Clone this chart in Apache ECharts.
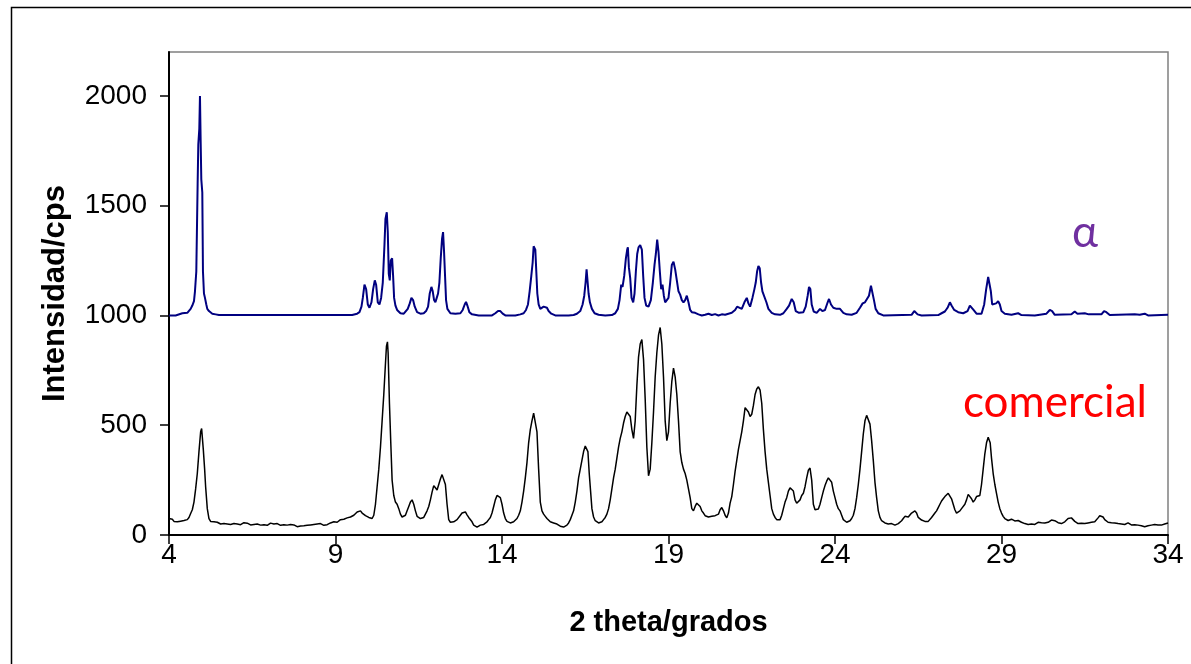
<!DOCTYPE html>
<html>
<head>
<meta charset="utf-8">
<script src="https://cdn.jsdelivr.net/npm/echarts@6/dist/echarts.min.js"></script>
<style>
  html, body { margin: 0; padding: 0; background: #fff; }
  #chart { width: 1191px; height: 664px; }
</style>
</head>
<body>
<div id="chart"></div>
<script>
// ---- Data (2θ in degrees, intensity in cps) ----
const xTicks = [4, 9, 14, 19, 24, 29, 34];
const yTicks = [0, 500, 1000, 1500, 2000];
const labelAlpha = 'α';
const labelCommercial = 'comercial';
const xTitle = '2 theta/grados';
const yTitle = 'Intensidad/cps';

// α form (offset by +1000)
const alphaPattern = [
  [4.00,1000],[4.20,1000],[4.25,1008],[4.40,1010],[4.55,1012],[4.60,1018],[4.65,1030],[4.70,1045],
  [4.75,1065],[4.78,1110],[4.82,1200],[4.86,1600],[4.88,1780],[4.91,1850],[4.93,2000],[4.95,1800],
  [4.97,1620],[5.00,1560],[5.02,1200],[5.05,1100],[5.08,1080],[5.12,1050],[5.15,1030],[5.20,1020],
  [5.25,1012],[5.30,1008],[5.40,1005],[5.50,1002],[6.50,1002],[7.50,1002],[8.50,1002],[9.50,1002],
  [9.55,1003],[9.65,1008],[9.72,1015],[9.78,1040],[9.82,1080],[9.87,1140],[9.92,1120],[9.97,1050],
  [10.02,1035],[10.08,1060],[10.13,1120],[10.18,1160],[10.22,1140],[10.27,1060],[10.32,1050],[10.37,1080],
  [10.42,1150],[10.47,1320],[10.50,1440],[10.54,1470],[10.57,1380],[10.60,1190],[10.63,1160],[10.66,1250],
  [10.70,1260],[10.73,1180],[10.76,1080],[10.80,1045],[10.85,1025],[10.95,1010],[11.05,1008],[11.10,1012],
  [11.17,1030],[11.23,1055],[11.28,1080],[11.33,1070],[11.38,1040],[11.45,1015],[11.55,1008],[11.65,1010],
  [11.72,1020],[11.78,1040],[11.83,1100],[11.88,1130],[11.92,1110],[11.96,1070],[12.00,1060],[12.04,1080],
  [12.08,1100],[12.12,1150],[12.16,1260],[12.20,1350],[12.23,1380],[12.26,1290],[12.29,1180],[12.32,1070],
  [12.36,1030],[12.45,1010],[12.60,1008],[12.75,1010],[12.82,1025],[12.88,1050],[12.92,1062],[12.96,1045],
  [13.02,1015],[13.10,1005],[13.30,1000],[13.70,1000],[13.80,1010],[13.88,1020],[13.95,1020],[14.02,1008],
  [14.10,1000],[14.40,1000],[14.55,1005],[14.65,1010],[14.72,1025],[14.78,1050],[14.83,1110],[14.88,1180],
  [14.92,1240],[14.95,1315],[14.98,1310],[15.00,1300],[15.03,1200],[15.06,1100],[15.10,1050],[15.15,1030],
  [15.20,1025],[15.25,1040],[15.30,1048],[15.35,1035],[15.40,1020],[15.48,1008],[15.60,1000],[16.00,1000],
  [16.15,1002],[16.25,1008],[16.35,1020],[16.42,1050],[16.47,1090],[16.51,1150],[16.54,1210],[16.57,1205],
  [16.60,1100],[16.64,1060],[16.70,1030],[16.78,1010],[16.90,1003],[17.10,1000],[17.30,1002],[17.40,1010],
  [17.48,1030],[17.53,1070],[17.58,1140],[17.62,1130],[17.67,1180],[17.72,1260],[17.76,1300],[17.78,1310],
  [17.81,1220],[17.85,1170],[17.89,1080],[17.94,1060],[17.98,1100],[18.02,1200],[18.06,1280],[18.10,1310],
  [18.15,1320],[18.20,1300],[18.24,1180],[18.28,1080],[18.33,1045],[18.40,1040],[18.47,1070],[18.53,1150],
  [18.58,1230],[18.62,1280],[18.66,1345],[18.70,1290],[18.74,1200],[18.78,1120],[18.82,1140],[18.86,1090],
  [18.90,1060],[18.95,1055],[19.00,1080],[19.05,1150],[19.10,1230],[19.15,1245],[19.20,1210],[19.25,1160],
  [19.30,1110],[19.35,1095],[19.40,1070],[19.45,1060],[19.50,1070],[19.55,1090],[19.60,1060],[19.65,1025],
  [19.70,1015],[19.80,1012],[19.90,1005],[20.00,1000],[20.10,1003],[20.20,1008],[20.30,1002],[20.40,1006],
  [20.50,1000],[20.60,1005],[20.70,1003],[20.80,1008],[20.90,1012],[21.00,1025],[21.06,1040],[21.12,1035],
  [21.20,1030],[21.28,1060],[21.35,1080],[21.40,1055],[21.45,1040],[21.52,1080],[21.58,1120],[21.62,1150],
  [21.66,1200],[21.70,1225],[21.74,1215],[21.78,1150],[21.82,1110],[21.88,1105],[21.94,1060],[22.00,1030],
  [22.10,1012],[22.20,1005],[22.35,1003],[22.45,1010],[22.55,1030],[22.62,1045],[22.70,1075],[22.76,1060],
  [22.82,1020],[22.92,1012],[23.05,1015],[23.12,1040],[23.18,1090],[23.22,1130],[23.26,1120],[23.30,1050],
  [23.36,1018],[23.45,1012],[23.55,1030],[23.62,1020],[23.70,1025],[23.78,1060],[23.82,1075],[23.88,1050],
  [23.95,1035],[24.05,1030],[24.15,1030],[24.25,1012],[24.35,1005],[24.50,1003],[24.65,1012],[24.75,1035],
  [24.83,1055],[24.90,1060],[24.96,1055],[25.02,1090],[25.08,1135],[25.12,1130],[25.17,1070],[25.22,1030],
  [25.30,1010],[25.45,1000],[26.30,1003],[26.38,1020],[26.42,1025],[26.48,1005],[26.60,1000],[27.10,1002],
  [27.20,1010],[27.30,1018],[27.38,1035],[27.45,1060],[27.50,1045],[27.58,1025],[27.70,1015],[27.85,1010],
  [27.98,1020],[28.05,1045],[28.10,1050],[28.16,1025],[28.25,1008],[28.40,1008],[28.48,1050],[28.54,1120],
  [28.60,1175],[28.64,1170],[28.68,1110],[28.72,1050],[28.78,1045],[28.84,1055],[28.90,1065],[28.95,1050],
  [29.00,1020],[29.10,1008],[29.30,1003],[29.50,1010],[29.60,1002],[30.00,1000],[30.35,1008],[30.45,1025],
  [30.52,1020],[30.60,1003],[31.10,1005],[31.20,1018],[31.28,1008],[31.50,1010],[31.56,1018],[31.62,1005],
  [32.00,1005],[32.08,1020],[32.15,1015],[32.25,1002],[33.00,1005],[33.15,1003],[33.30,1008],[33.40,1000],
  [34.00,1003]
];

// commercial sample
const commercialPattern = [
  [4.00,75],[4.05,68],[4.10,72],[4.15,62],[4.20,66],[4.25,60],[4.30,65],[4.35,63],[4.40,70],[4.45,66],
  [4.50,72],[4.55,70],[4.60,80],[4.65,98],[4.70,115],[4.75,150],[4.80,210],[4.85,280],[4.90,380],[4.95,470],
  [4.98,485],[5.00,480],[5.03,390],[5.07,300],[5.10,220],[5.15,120],[5.20,75],[5.25,62],[5.30,58],[5.35,60],
  [5.40,52],[5.45,58],[5.50,55],[5.55,50],[5.60,56],[5.65,52],[5.70,58],[5.75,50],[5.80,54],[5.85,48],
  [5.90,55],[5.95,52],[6.00,60],[6.05,50],[6.10,55],[6.15,47],[6.20,53],[6.25,56],[6.30,49],[6.35,54],
  [6.40,50],[6.45,46],[6.50,52],[6.55,48],[6.60,55],[6.65,50],[6.70,53],[6.75,45],[6.80,50],[6.85,47],
  [6.90,52],[6.95,44],[7.00,50],[7.05,54],[7.10,46],[7.15,50],[7.20,45],[7.25,52],[7.30,48],[7.35,44],
  [7.40,50],[7.45,47],[7.50,52],[7.55,45],[7.60,42],[7.65,48],[7.70,40],[7.75,46],[7.80,43],[7.85,38],
  [7.90,44],[7.95,41],[8.00,46],[8.05,42],[8.10,48],[8.15,44],[8.20,40],[8.25,46],[8.30,42],[8.35,48],
  [8.40,44],[8.45,50],[8.50,46],[8.55,52],[8.60,48],[8.65,44],[8.70,50],[8.75,47],[8.80,52],[8.85,55],
  [8.90,58],[8.95,60],[9.00,62],[9.05,58],[9.10,64],[9.15,70],[9.20,66],[9.25,72],[9.30,70],[9.35,78],
  [9.40,74],[9.45,82],[9.50,86],[9.55,90],[9.60,98],[9.65,105],[9.70,112],[9.75,110],[9.80,100],[9.85,92],
  [9.90,88],[9.95,84],[10.00,80],[10.05,78],[10.10,75],[10.15,90],[10.20,140],[10.25,220],[10.30,300],[10.35,400],
  [10.40,520],[10.45,640],[10.50,780],[10.53,860],[10.56,880],[10.58,830],[10.62,600],[10.66,420],[10.70,250],[10.75,180],
  [10.80,150],[10.85,140],[10.90,120],[10.95,95],[11.00,82],[11.05,80],[11.10,90],[11.15,110],[11.20,130],[11.25,150],
  [11.30,160],[11.35,140],[11.40,110],[11.45,85],[11.50,78],[11.55,75],[11.60,74],[11.65,80],[11.70,95],[11.75,110],
  [11.80,130],[11.85,160],[11.90,195],[11.95,225],[12.00,215],[12.05,205],[12.10,230],[12.15,255],[12.20,275],[12.25,270],
  [12.30,230],[12.35,140],[12.40,70],[12.45,58],[12.50,62],[12.55,60],[12.60,68],[12.65,70],[12.70,75],[12.75,90],
  [12.80,100],[12.85,108],[12.90,105],[12.95,92],[13.00,80],[13.05,72],[13.10,60],[13.15,45],[13.20,38],[13.25,36],
  [13.30,40],[13.35,45],[13.40,50],[13.45,48],[13.50,52],[13.55,60],[13.60,70],[13.65,80],[13.70,100],[13.75,130],
  [13.80,160],[13.85,180],[13.90,185],[13.95,170],[14.00,140],[14.05,100],[14.10,75],[14.15,62],[14.20,58],[14.25,55],
  [14.30,55],[14.35,60],[14.40,65],[14.45,75],[14.50,90],[14.55,110],[14.60,150],[14.65,200],[14.70,260],[14.75,330],
  [14.80,420],[14.85,480],[14.90,520],[14.95,555],[15.00,560],[15.05,470],[15.10,300],[15.15,150],[15.20,110],[15.25,95],
  [15.30,85],[15.35,75],[15.40,68],[15.45,60],[15.50,58],[15.55,55],[15.60,55],[15.65,50],[15.70,45],[15.75,40],
  [15.80,38],[15.85,36],[15.90,40],[15.95,45],[16.00,55],[16.05,70],[16.10,90],[16.15,110],[16.20,150],[16.25,200],
  [16.30,260],[16.35,300],[16.40,340],[16.45,380],[16.50,405],[16.55,410],[16.58,380],[16.62,280],[16.66,200],[16.70,120],
  [16.75,82],[16.80,65],[16.85,58],[16.90,55],[16.95,56],[17.00,60],[17.05,70],[17.10,80],[17.15,95],[17.20,120],
  [17.25,160],[17.30,210],[17.35,260],[17.40,300],[17.45,350],[17.50,400],[17.55,440],[17.60,470],[17.65,510],[17.70,540],
  [17.75,560],[17.80,560],[17.85,540],[17.90,480],[17.95,440],[18.00,520],[18.05,680],[18.10,810],[18.15,870],[18.20,890],
  [18.25,800],[18.30,620],[18.35,400],[18.40,270],[18.45,300],[18.50,420],[18.55,560],[18.60,720],[18.65,830],[18.70,910],
  [18.75,945],[18.80,870],[18.85,720],[18.90,520],[18.95,430],[19.00,470],[19.05,600],[19.10,700],[19.15,760],[19.20,720],
  [19.25,640],[19.30,520],[19.35,380],[19.40,330],[19.45,300],[19.50,280],[19.55,250],[19.60,210],[19.65,170],[19.70,120],
  [19.75,110],[19.80,130],[19.85,145],[19.90,150],[19.95,130],[20.00,110],[20.05,100],[20.10,88],[20.15,85],[20.20,82],
  [20.25,80],[20.30,85],[20.35,90],[20.40,88],[20.45,85],[20.50,95],[20.55,115],[20.60,125],[20.65,110],[20.70,90],
  [20.75,78],[20.80,100],[20.85,145],[20.90,175],[20.95,230],[21.00,290],[21.05,340],[21.10,390],[21.15,430],[21.20,470],
  [21.25,520],[21.30,580],[21.35,585],[21.40,560],[21.45,540],[21.50,550],[21.55,590],[21.60,640],[21.65,665],[21.70,675],
  [21.75,660],[21.80,600],[21.85,480],[21.90,380],[21.95,300],[22.00,240],[22.05,180],[22.10,120],[22.15,95],[22.20,80],
  [22.25,70],[22.30,68],[22.35,70],[22.40,90],[22.45,120],[22.50,150],[22.55,170],[22.60,200],[22.65,215],[22.70,220],
  [22.75,200],[22.80,160],[22.85,145],[22.90,150],[22.95,160],[23.00,180],[23.05,190],[23.10,220],[23.15,260],[23.20,295],
  [23.25,305],[23.30,250],[23.35,140],[23.40,115],[23.45,110],[23.50,118],[23.55,140],[23.60,170],[23.65,200],[23.70,225],
  [23.75,245],[23.80,260],[23.85,265],[23.90,240],[23.95,200],[24.00,170],[24.05,140],[24.10,120],[24.15,110],[24.20,90],
  [24.25,70],[24.30,62],[24.35,58],[24.40,60],[24.45,65],[24.50,75],[24.55,90],[24.60,120],[24.65,170],[24.70,230],
  [24.75,300],[24.80,380],[24.85,460],[24.90,520],[24.95,545],[25.00,540],[25.05,505],[25.10,430],[25.15,340],[25.20,240],
  [25.25,170],[25.30,110],[25.35,80],[25.40,65],[25.45,58],[25.50,55],[25.55,52],[25.60,50],[25.65,48],[25.70,52],
  [25.75,47],[25.80,45],[25.85,48],[25.90,52],[25.95,58],[26.00,65],[26.05,75],[26.10,85],[26.15,90],[26.20,82],
  [26.25,88],[26.30,100],[26.35,108],[26.40,110],[26.45,100],[26.50,80],[26.55,72],[26.60,68],[26.65,65],[26.70,62],
  [26.75,58],[26.80,62],[26.85,70],[26.90,80],[26.95,90],[27.00,100],[27.05,110],[27.10,125],[27.15,140],[27.20,155],
  [27.25,165],[27.30,175],[27.35,180],[27.40,190],[27.45,185],[27.50,165],[27.55,140],[27.60,115],[27.65,100],[27.70,98],
  [27.75,110],[27.80,120],[27.85,125],[27.90,140],[27.95,160],[28.00,185],[28.05,190],[28.10,165],[28.15,150],[28.20,160],
  [28.25,175],[28.30,170],[28.35,180],[28.40,230],[28.45,300],[28.50,370],[28.55,420],[28.60,445],[28.63,450],[28.66,420],
  [28.70,350],[28.75,280],[28.80,230],[28.85,190],[28.90,150],[28.95,120],[29.00,100],[29.05,85],[29.10,75],[29.15,68],
  [29.20,66],[29.25,70],[29.30,72],[29.35,68],[29.40,64],[29.45,70],[29.50,66],[29.55,60],[29.60,58],[29.65,55],
  [29.70,52],[29.75,50],[29.80,48],[29.85,46],[29.90,50],[29.95,52],[30.00,48],[30.05,55],[30.10,58],[30.15,52],
  [30.20,56],[30.25,60],[30.30,55],[30.35,62],[30.40,58],[30.45,65],[30.50,68],[30.55,72],[30.60,65],[30.65,60],
  [30.70,56],[30.75,58],[30.80,52],[30.85,55],[30.90,60],[30.95,68],[31.00,75],[31.05,80],[31.10,78],[31.15,70],
  [31.20,62],[31.25,58],[31.30,52],[31.35,50],[31.40,54],[31.45,48],[31.50,52],[31.55,50],[31.60,55],[31.65,52],
  [31.70,58],[31.75,55],[31.80,60],[31.85,68],[31.90,78],[31.95,88],[32.00,90],[32.05,82],[32.10,70],[32.15,62],
  [32.20,58],[32.25,62],[32.30,56],[32.35,60],[32.40,55],[32.45,58],[32.50,52],[32.55,56],[32.60,50],[32.65,54],
  [32.70,48],[32.75,52],[32.80,55],[32.85,50],[32.90,46],[32.95,50],[33.00,47],[33.05,52],[33.10,45],[33.15,48],
  [33.20,42],[33.25,40],[33.30,38],[33.35,36],[33.40,42],[33.45,40],[33.50,45],[33.55,42],[33.60,48],[33.65,44],
  [33.70,46],[33.75,42],[33.80,45],[33.85,48],[33.90,50],[33.95,52],[34.00,55]
];

const chart = echarts.init(document.getElementById('chart'), null, { renderer: 'canvas' });
const FONT = "'Liberation Sans', Arial, sans-serif";

chart.setOption({
  animation: false,
  backgroundColor: '#ffffff',
  grid: {
    left: 169, right: 23, top: 52, bottom: 129,
    show: true, borderColor: '#808080', borderWidth: 1.5, backgroundColor: 'transparent'
  },
  xAxis: {
    type: 'value', min: xTicks[0], max: xTicks[xTicks.length - 1], interval: 5,
    axisLine: { show: true, onZero: false, lineStyle: { color: '#000', width: 2 } },
    axisTick: { show: true, inside: false, length: 9, lineStyle: { color: '#000', width: 1.5 } },
    axisLabel: { color: '#000', fontSize: 28, fontFamily: FONT, margin: 6, formatter: v => String(v) },
    splitLine: { show: false },
    name: xTitle, nameLocation: 'middle', nameGap: 73,
    nameTextStyle: { color: '#000', fontSize: 29, fontWeight: 'bold', fontFamily: FONT }
  },
  yAxis: {
    type: 'value', min: 0, max: 2200, interval: 500,
    axisLine: { show: true, lineStyle: { color: '#000', width: 2 } },
    axisTick: { show: true, inside: false, length: 9, customValues: yTicks, lineStyle: { color: '#000', width: 1.5 } },
    axisLabel: { color: '#000', fontSize: 28, fontFamily: FONT, margin: 22, customValues: yTicks, formatter: v => String(v) },
    splitLine: { show: false },
    name: yTitle, nameLocation: 'middle', nameGap: 98,
    nameTextStyle: { color: '#000', fontSize: 31, fontWeight: 'bold', fontFamily: FONT }
  },
  series: [
    {
      type: 'line', name: 'alpha', data: alphaPattern, showSymbol: false,
      lineStyle: { color: '#000080', width: 2 }, z: 3
    },
    {
      type: 'line', name: 'comercial', data: commercialPattern, showSymbol: false,
      lineStyle: { color: '#000000', width: 1.5 }, z: 2
    }
  ],
  graphic: [
    {
      type: 'rect', left: 9, top: 5, z: -1, silent: true,
      shape: { width: 1300, height: 800 },
      style: { fill: 'none', stroke: '#000', lineWidth: 1.5 }
    },
    {
      type: 'text', left: 1072, top: 211, z: 10,
      style: { text: labelAlpha, fill: '#7030A0', fontSize: 44, fontFamily: "Lato, 'Noto Sans', sans-serif" }
    },
    {
      type: 'text', left: 963, top: 381, z: 10,
      style: { text: labelCommercial, fill: '#FF0000', fontSize: 44, fontFamily: "Lato, 'Noto Sans', sans-serif" }
    }
  ]
});
</script>
</body>
</html>
